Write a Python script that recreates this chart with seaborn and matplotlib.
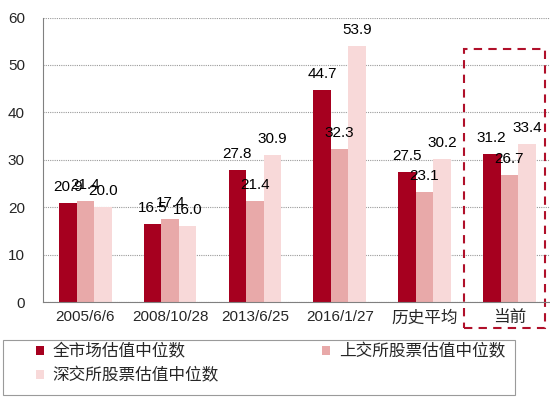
import matplotlib
matplotlib.use("Agg")
import matplotlib.pyplot as plt
from matplotlib.patches import Rectangle, Patch
import seaborn as sns
import pandas as pd

categories = ["2005/6/6", "2008/10/28", "2013/6/25", "2016/1/27", "历史平均", "当前"]
series_names = ["全市场估值中位数", "上交所股票估值中位数", "深交所股票估值中位数"]
all_market = [20.9, 16.5, 27.8, 44.7, 27.5, 31.2]
sh_market = [21.4, 17.4, 21.4, 32.3, 23.1, 26.7]
sz_market = [20.0, 16.0, 30.9, 53.9, 30.2, 33.4]
colors = ["#A6001F", "#E8A9A9", "#F8D9D9"]

rows = []
for name, vals in zip(series_names, [all_market, sh_market, sz_market]):
    for c, v in zip(categories, vals):
        rows.append({"cat": c, "series": name, "value": v})
df = pd.DataFrame(rows)

sns.set_style("white")
FAM = ["Liberation Sans", "Noto Sans CJK SC", "DejaVu Sans"]
plt.rcParams["font.family"] = FAM

fig = plt.figure(figsize=(5.5, 3.97), dpi=100)
ax = fig.add_axes([43 / 550, 1 - 302 / 397, 1 - 43 / 550 + 0.003, (302 - 17.5) / 397])

sns.barplot(data=df, x="cat", y="value", hue="series", order=categories,
            hue_order=series_names, palette=colors, width=0.62, saturation=1,
            edgecolor="none", linewidth=0, ax=ax, legend=False)

for cont in ax.containers:
    ax.bar_label(cont, fmt="%.1f", padding=6.5, fontsize=11, color="black")

ax.set_ylim(0, 60)
ax.set_xlim(-0.5, 5.5)
ax.set_yticks(range(0, 61, 10))
ax.yaxis.grid(True, color="#9a9a9a", linestyle=(0, (1, 1)), linewidth=0.8)
ax.set_axisbelow(True)
ax.set_xlabel("")
ax.set_ylabel("")
for s in ["top", "right"]:
    ax.spines[s].set_visible(False)
for s in ["left", "bottom"]:
    ax.spines[s].set_color("#808080")
    ax.spines[s].set_linewidth(0.8)

ax.tick_params(axis="y", which="major", direction="out", length=4, width=0.8,
               color="#808080", labelsize=11, pad=9)
ax.tick_params(axis="x", which="major", length=0, labelsize=12, pad=6)
ax.set_xticks([i + 0.5 for i in range(-1, 6)], minor=True)
ax.tick_params(axis="x", which="minor", direction="out", length=5, width=0.8, color="#808080")
for lab in ax.get_xticklabels():
    if any(ord(ch) > 127 for ch in lab.get_text()):
        lab.set_fontsize(12)
    else:
        lab.set_fontsize(11)

# dashed highlight box around the current group
rect = Rectangle((4.47, -5.5), 0.95, 58.8, fill=False, edgecolor="#B0102A",
                 linestyle=(0, (4, 3)), linewidth=1.5, clip_on=False)
ax.add_patch(rect)

# legend
handles = [Patch(facecolor=c, edgecolor="none") for c in colors]
order_handles = [handles[0], handles[2], handles[1]]
order_labels = [series_names[0], series_names[2], series_names[1]]
fig.legend(order_handles, order_labels, loc="upper left",
           bbox_to_anchor=(36 / 550, 1 - 343 / 397), ncol=2, frameon=False,
           borderaxespad=0, borderpad=0, handlelength=0.45, handleheight=0.45,
           handletextpad=0.55, labelspacing=0.45, columnspacing=6.2,
           prop={"family": ["Noto Sans CJK SC", "DejaVu Sans"], "size": 12})
fig.patches.append(Rectangle((3 / 550, 2 / 397), 512 / 550, 55 / 397,
                             transform=fig.transFigure, fill=False,
                             edgecolor="#9a9a9a", linewidth=0.8))

fig.savefig("out.png", dpi=100)
